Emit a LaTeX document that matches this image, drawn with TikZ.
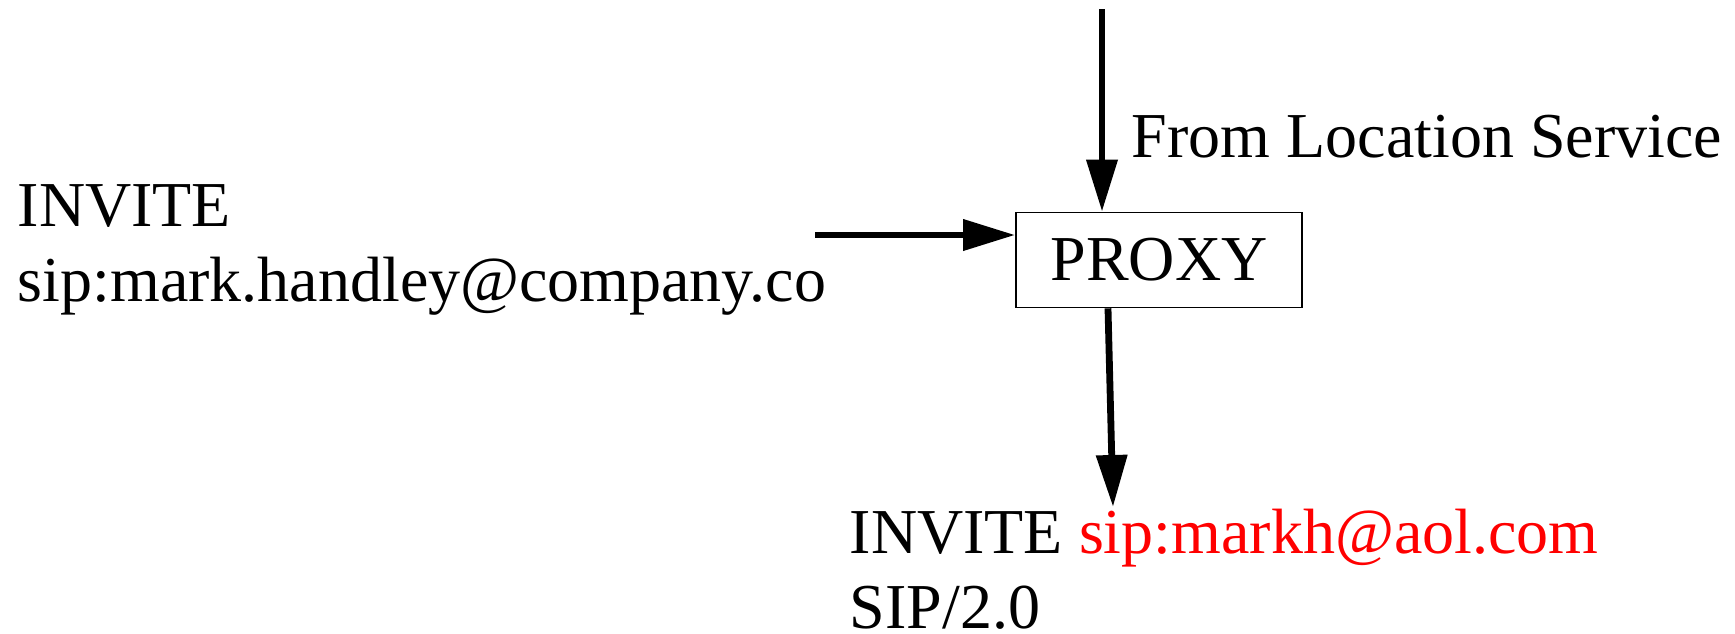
\documentclass[tikz,border=0pt]{standalone}
\usepackage{fontspec}
\setmainfont{Liberation Serif}
\usetikzlibrary{arrows.meta}
\tikzset{
    lab/.style={
        font=\fontsize{16}{18.75}\selectfont, inner sep=0pt
    },
    box/.style={
        draw, line width=0.4pt, font=\fontsize{16}{18.75}\selectfont,
        minimum width=71.5pt, minimum height=23.75pt, inner sep=0pt
    },
    flow/.style={
        line width=1.7pt, -{Triangle[length=13pt,width=7.5pt]}
    }
}

\begin{document}
\begin{tikzpicture}[x=0.25pt,y=-0.25pt]

% --- page (pixel grid of the reference) ---
    \useasboundingbox (0,0) rectangle (1735,633);

% proxy
    \node[box] (proxy) at (1159,260) {PROXY};

% incoming request (left); base = last line
    \node[lab, anchor=base west, align=left] (req) at (17,301)
        {INVITE\\sip:mark.handley@company.co};
    \coordinate (reqend) at (815,235);
    \draw[flow] (reqend) -- (reqend -| proxy.west);

% location service (top)
    \coordinate (locsrc) at (1102,9);
    \draw[flow] (locsrc) -- (locsrc |- proxy.north);
    \node[lab, anchor=base west] (loc) at (1131,157) {From Location Service};

% forwarded request (bottom)
    \node[lab, anchor=base west, align=left] (fwd) at (849,628)
        {INVITE \textcolor{red}{sip:markh@aol.com}\\SIP/2.0};
    \coordinate (outx) at (1108,0);
    \coordinate (fwdtip) at (1113,507);
    \draw[flow] (proxy.south -| outx) -- (fwdtip);

  \end{tikzpicture}
\end{document}
